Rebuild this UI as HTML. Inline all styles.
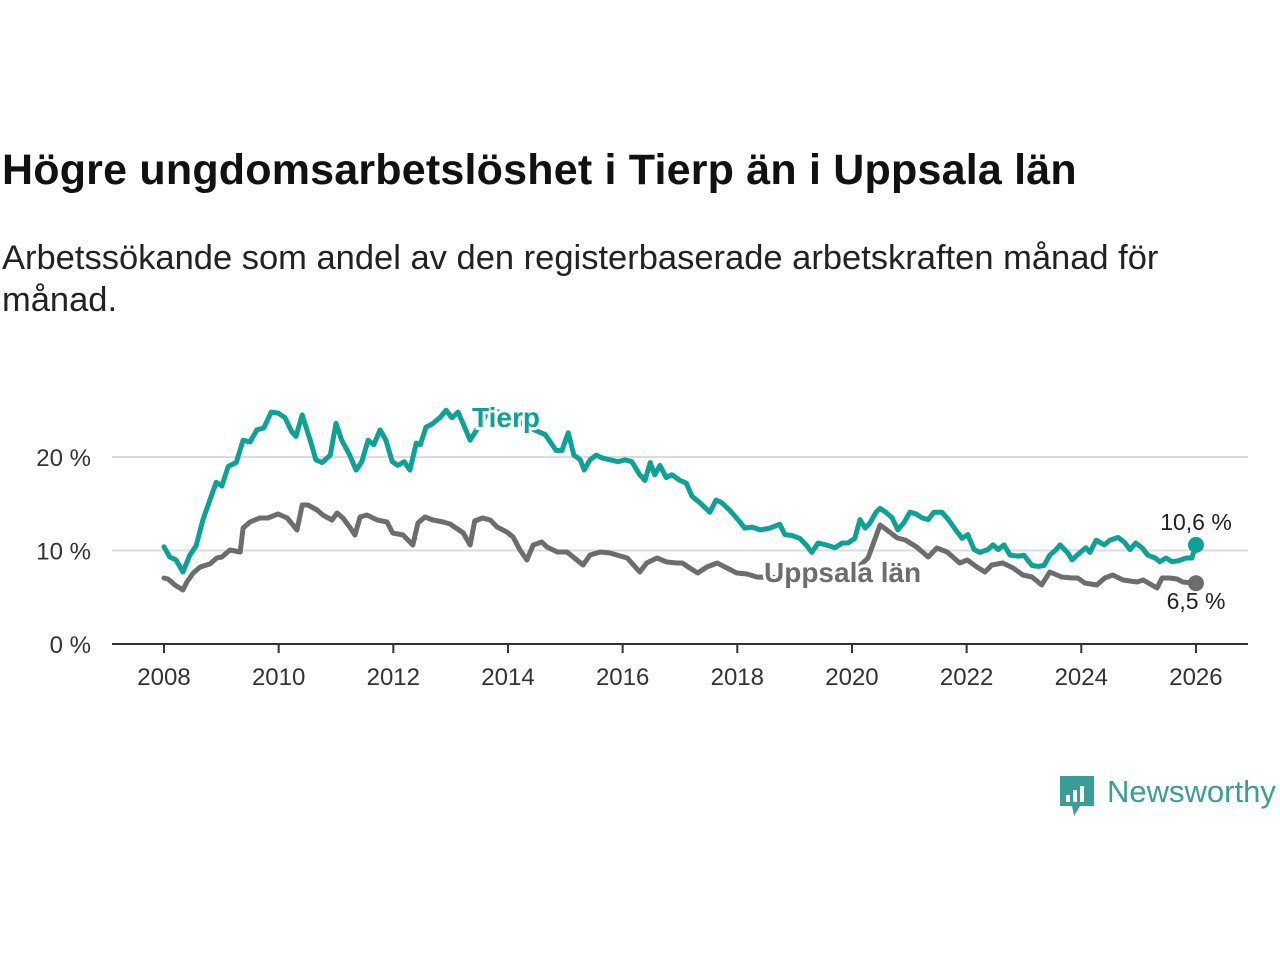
<!DOCTYPE html>
<html><head><meta charset="utf-8">
<style>
body{margin:0;background:#fff;width:1280px;height:960px;overflow:hidden;font-family:"Liberation Sans",sans-serif;}
h1{position:absolute;left:2px;top:146px;margin:0;font-size:43px;font-weight:bold;color:#111;letter-spacing:0.2px;white-space:nowrap;}
p.sub{position:absolute;left:2px;top:237px;margin:0;font-size:34.5px;line-height:42px;color:#222;width:1200px;}
svg{position:absolute;left:0;top:0;}
</style></head><body>
<h1>Högre ungdomsarbetslöshet i Tierp än i Uppsala län</h1>
<p class="sub">Arbetssökande som andel av den registerbaserade arbetskraften månad för månad.</p>
<svg id="chart" width="1280" height="960"></svg>
<script>
const yTicks=[0,10,20];
const yTickLabels=["0 %","10 %","20 %"];
const xTicks=[2008,2010,2012,2014,2016,2018,2020,2022,2024,2026];
const tierpT=[0,.10,.21,.33,.45,.56,.68,.80,.91,1.01,1.12,1.26,1.38,1.50,1.62,1.74,1.87,1.99,2.11,2.23,2.30,2.41,2.55,2.65,2.76,2.90,3.00,3.10,3.24,3.35,3.45,3.56,3.66,3.77,3.87,3.98,4.08,4.19,4.29,4.40,4.47,4.57,4.67,4.81,4.92,5.02,5.13,5.23,5.34,5.69,6.12,6.38,6.65,6.84,6.94,7.05,7.15,7.26,7.33,7.43,7.54,7.64,7.78,7.92,8.04,8.16,8.30,8.39,8.48,8.56,8.65,8.76,8.86,9.00,9.11,9.21,9.35,9.52,9.63,9.73,9.87,10.01,10.13,10.26,10.40,10.57,10.74,10.83,10.95,11.09,11.20,11.30,11.41,11.55,11.70,11.83,11.93,12.05,12.14,12.23,12.31,12.42,12.49,12.59,12.70,12.80,12.91,13.01,13.12,13.22,13.33,13.43,13.57,13.68,13.81,13.92,14.02,14.13,14.23,14.37,14.46,14.55,14.65,14.76,14.90,15.00,15.14,15.25,15.35,15.45,15.56,15.63,15.77,15.84,15.98,16.08,16.15,16.26,16.40,16.50,16.64,16.75,16.85,16.95,17.06,17.16,17.29,17.37,17.48,17.58,17.69,17.83,17.93,18.00];
const tierpV=[10.4,9.3,9.0,7.7,9.5,10.5,13.3,15.4,17.3,16.9,19.0,19.4,21.8,21.6,22.9,23.1,24.8,24.7,24.2,22.7,22.2,24.5,21.8,19.7,19.4,20.2,23.6,21.8,20.2,18.6,19.5,21.8,21.3,22.9,21.8,19.5,19.1,19.5,18.6,21.5,21.3,23.2,23.5,24.2,25.0,24.2,24.8,23.4,21.8,25.2,24.0,23.1,22.4,20.7,20.7,22.6,20.2,19.7,18.6,19.7,20.2,19.9,19.7,19.5,19.7,19.5,18.1,17.5,19.4,18.1,19.1,17.8,18.1,17.5,17.2,15.8,15.1,14.1,15.4,15.1,14.3,13.3,12.4,12.5,12.2,12.4,12.8,11.7,11.6,11.3,10.6,9.8,10.8,10.6,10.3,10.8,10.8,11.3,13.3,12.4,12.9,14.1,14.5,14.1,13.5,12.2,13.0,14.1,13.9,13.5,13.3,14.1,14.1,13.3,12.2,11.3,11.7,10.1,9.8,10.1,10.6,10.1,10.6,9.5,9.4,9.5,8.4,8.3,8.4,9.5,10.1,10.6,9.7,9.0,9.8,10.3,9.8,11.1,10.6,11.1,11.4,10.9,10.1,10.8,10.3,9.5,9.2,8.8,9.2,8.8,8.9,9.2,9.2,10.6];
const upsT=[0,.07,.19,.33,.40,.51,.63,.80,.92,1.01,1.15,1.33,1.38,1.50,1.67,1.81,1.99,2.15,2.32,2.41,2.51,2.67,2.77,2.93,3.02,3.12,3.24,3.33,3.42,3.54,3.72,3.89,3.99,4.17,4.34,4.43,4.55,4.69,4.87,4.99,5.22,5.34,5.42,5.56,5.69,5.81,5.98,6.09,6.21,6.33,6.44,6.59,6.68,6.86,7.03,7.31,7.43,7.61,7.78,8.08,8.30,8.42,8.60,8.77,8.95,9.04,9.17,9.31,9.47,9.65,9.82,9.99,10.17,10.34,10.92,11.44,11.97,12.28,12.49,12.61,12.79,12.93,13.13,13.33,13.48,13.66,13.88,14.01,14.18,14.32,14.44,14.63,14.81,14.98,15.14,15.31,15.45,15.66,15.84,15.94,16.06,16.27,16.41,16.55,16.73,16.97,17.08,17.32,17.41,17.54,17.67,17.77,18.00];
const upsV=[7.06,6.95,6.31,5.78,6.63,7.59,8.24,8.56,9.20,9.30,10.05,9.84,12.41,13.05,13.48,13.48,13.90,13.48,12.19,14.87,14.87,14.33,13.80,13.26,14.01,13.48,12.51,11.66,13.58,13.80,13.26,13.05,11.87,11.66,10.59,12.94,13.58,13.26,13.05,12.83,11.87,10.59,13.16,13.48,13.26,12.51,11.98,11.44,10.05,8.98,10.59,10.91,10.37,9.84,9.84,8.45,9.52,9.84,9.73,9.20,7.70,8.66,9.20,8.77,8.66,8.66,8.13,7.59,8.24,8.66,8.13,7.59,7.49,7.17,7.06,7.17,7.38,9.20,12.73,12.19,11.34,11.12,10.37,9.30,10.27,9.84,8.66,8.98,8.24,7.70,8.45,8.66,8.13,7.38,7.17,6.31,7.70,7.17,7.06,7.06,6.52,6.31,7.06,7.38,6.84,6.63,6.84,5.99,7.06,7.06,6.95,6.63,6.5];

const NS='http://www.w3.org/2000/svg';
const svg=document.getElementById('chart');
const X0=164,PXY=57.33,Y0=644,PXV=9.35;
const xs=y=>X0+(y-2008)*PXY;
const ys=v=>Y0-v*PXV;
function mk(tag,attrs,parent){const e=document.createElementNS(NS,tag);for(const k in attrs)e.setAttribute(k,attrs[k]);(parent||svg).appendChild(e);return e;}
yTicks.forEach((t,i)=>{
  if(t>0){const g=mk('line',{x1:112,x2:1248,y1:ys(t),y2:ys(t),stroke:'#dcdcdc','stroke-width':2});
  
  }
  const l=mk('text',{x:91,y:ys(t)+9,'text-anchor':'end','font-size':24,fill:'#333','font-family':'Liberation Sans, sans-serif'});
  l.textContent=yTickLabels[i];
  
  
});
const ax=mk('line',{x1:112,x2:1248,y1:Y0,y2:Y0,stroke:'#333','stroke-width':2});


xTicks.forEach(t=>{
  const tk=mk('line',{x1:xs(t),x2:xs(t),y1:Y0,y2:Y0+9,stroke:'#333','stroke-width':2});
  
  
  const l=mk('text',{x:xs(t),y:Y0+41,'text-anchor':'middle','font-size':24,fill:'#333','font-family':'Liberation Sans, sans-serif'});
  l.textContent=t;
  
  
});
function line(T,V,color,name){
  const d=T.map((t,i)=>(i?'L':'M')+xs(2008+t).toFixed(1)+','+ys(V[i]).toFixed(1)).join('');
  const p=mk('path',{d:d,fill:'none',stroke:color,'stroke-width':5,'stroke-linejoin':'round','stroke-linecap':'round'});
  
  
}
line(upsT,upsV,'#6d6d70','uppsala-line');
line(tierpT,tierpV,'#0fa196','tierp-line');
function label(x,y,txt,color,name){
  const t=mk('text',{x:x,y:y,'font-size':28,'font-weight':'bold',fill:color,stroke:'#fff','stroke-width':6,'paint-order':'stroke','font-family':'Liberation Sans, sans-serif'});
  t.textContent=txt;
  
  
}
label(472,427,'Tierp','#0fa196','tierp-label');
label(764,582,'Uppsala län','#6d6d70','uppsala-label');
const d1=mk('circle',{cx:xs(2008+tierpT[tierpT.length-1]),cy:ys(tierpV[tierpV.length-1]),r:8,fill:'#0fa196'});


const d2=mk('circle',{cx:xs(2008+upsT[upsT.length-1]),cy:ys(upsV[upsV.length-1]),r:8,fill:'#6d6d70'});


const e1=mk('text',{x:1196,y:530,'text-anchor':'middle','font-size':23,fill:'#222','font-family':'Liberation Sans, sans-serif'});
e1.textContent=tierpV[tierpV.length-1].toFixed(1).replace('.',',')+' %';


const e2=mk('text',{x:1196,y:609,'text-anchor':'middle','font-size':23,fill:'#222','font-family':'Liberation Sans, sans-serif'});
e2.textContent=upsV[upsV.length-1].toFixed(1).replace('.',',')+' %';


</script>
<svg width="1280" height="960" style="pointer-events:none">
  <path d="M1060 776 h34 v30 h-14 l-6 10 l-2 -10 h-12 z" fill="#3a9e96"/>
  <rect x="1066" y="795" width="4" height="7" fill="#fff"/>
  <rect x="1073" y="790" width="4" height="12" fill="#fff"/>
  <rect x="1080" y="786" width="4" height="16" fill="#fff"/>
  <text x="1107" y="802" font-size="31" fill="#3a9e96" font-family="Liberation Sans, sans-serif">Newsworthy</text>
</svg>
</body></html>
